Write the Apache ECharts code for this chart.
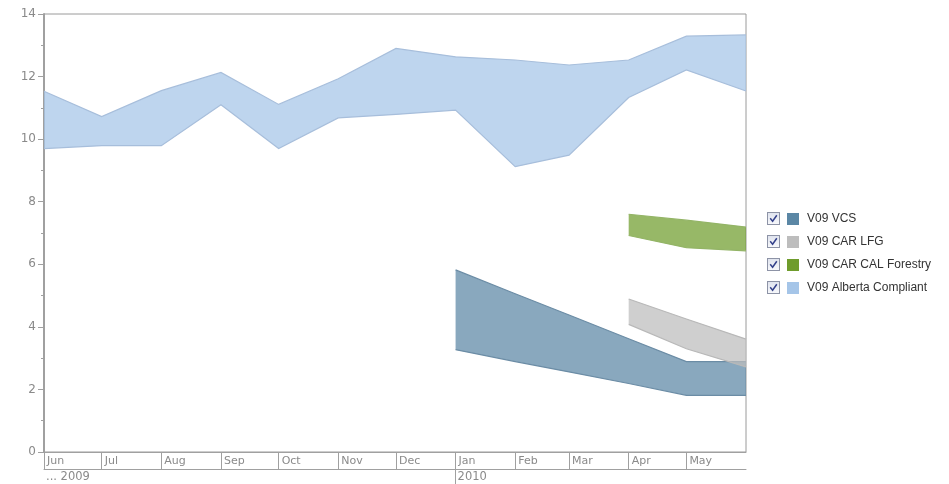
<!DOCTYPE html>
<html>
<head>
<meta charset="utf-8">
<script src="https://cdn.jsdelivr.net/npm/echarts@6/dist/echarts.min.js"></script>
<style>
  html, body { margin: 0; padding: 0; background: #fff; }
  #chart { width: 949px; height: 484px; }
</style>
</head>
<body>
<div id="chart"></div>
<script>
// Month keys (first day of each month) covered by the x axis
const monthKeys = ['2009-06', '2009-07', '2009-08', '2009-09', '2009-10', '2009-11',
  '2009-12', '2010-01', '2010-02', '2010-03', '2010-04', '2010-05', '2010-06'];
const monthLabels = ['Jun', 'Jul', 'Aug', 'Sep', 'Oct', 'Nov', 'Dec', 'Jan', 'Feb', 'Mar', 'Apr', 'May'];
const yearLabelKeys = ['2009-06', '2010-01'];
const yearLabels = ['... 2009', '2010'];
const yTicks = { min: 0, max: 14, step: 2 };

// Price ranges (low / high) per series
const albertaMonths = monthKeys;
const albertaLow  = [9.70, 9.79, 9.79, 11.10, 9.70, 10.68, 10.79, 10.93, 9.12, 9.49, 11.33, 12.21, 11.54];
const albertaHigh = [11.53, 10.72, 11.55, 12.13, 11.11, 11.93, 12.90, 12.63, 12.53, 12.37, 12.53, 13.29, 13.33];

const vcsMonths = ['2010-01', '2010-02', '2010-03', '2010-04', '2010-05', '2010-06'];
const vcsLow  = [3.27, 2.89, 2.56, 2.19, 1.81, 1.81];
const vcsHigh = [5.82, 5.06, 4.38, 3.62, 2.89, 2.89];

const lfgMonths = ['2010-04', '2010-05', '2010-06'];
const lfgLow  = [4.08, 3.30, 2.72];
const lfgHigh = [4.89, 4.25, 3.61];

const forestryMonths = ['2010-04', '2010-05', '2010-06'];
const forestryLow  = [6.92, 6.53, 6.43];
const forestryHigh = [7.60, 7.41, 7.19];

const legendOrder = ['V09 VCS', 'V09 CAR LFG', 'V09 CAR CAL Forestry', 'V09 Alberta Compliant'];

// Day number (UTC) of the first day of a month key
const DAY = 86400000;
function dayOf(key) {
  const [y, m] = key.split('-').map(Number);
  return Date.UTC(y, m - 1, 1) / DAY;
}
const tickDays = monthKeys.slice(0, monthLabels.length).map(dayOf);
const yearDays = yearLabelKeys.map(dayOf);
const xMin = dayOf(monthKeys[0]);
const xMax = dayOf(monthKeys[monthKeys.length - 1]);

function rgba(hex, a) {
  const n = parseInt(hex.slice(1), 16);
  return 'rgba(' + (n >> 16) + ',' + ((n >> 8) & 255) + ',' + (n & 255) + ',' + a + ')';
}

// A range series: filled polygon between the low and high lines, with both edges stroked
function band(name, months, low, high, color, edge) {
  const data = months.map((m, i) => [dayOf(m), low[i], high[i]]);
  return {
    name: name, type: 'custom', silent: true,
    itemStyle: { color: color },
    encode: { x: 0, y: [1, 2] },
    data: data,
    renderItem: function (params, api) {
      if (params.dataIndex !== 0) return null;
      const top = data.map(d => api.coord([d[0], d[2]]));
      const bottom = data.map(d => api.coord([d[0], d[1]]));
      return {
        type: 'group',
        children: [
          { type: 'polygon', shape: { points: top.concat(bottom.slice().reverse()) },
            style: { fill: rgba(color, 0.72), stroke: null } },
          { type: 'polyline', shape: { points: top }, style: { fill: null, stroke: edge, lineWidth: 1.2 } },
          { type: 'polyline', shape: { points: bottom }, style: { fill: null, stroke: edge, lineWidth: 1.2 } }
        ]
      };
    }
  };
}

const checkboxSvg = "<svg xmlns='http://www.w3.org/2000/svg' width='13' height='13'>" +
  "<defs><linearGradient id='g' x1='0' y1='0' x2='0' y2='1'><stop offset='0' stop-color='#dfe3ee'/><stop offset='1' stop-color='#f7f8fb'/></linearGradient></defs>" +
  "<rect x='0.5' y='0.5' width='12' height='12' fill='url(#g)' stroke='#8d93a6'/>" +
  "<path d='M3.2 6.3 L5.6 9.2 L9.8 3.2' fill='none' stroke='#33408a' stroke-width='1.5'/></svg>";
const checkboxIcon = 'image://data:image/svg+xml;charset=utf-8,' + encodeURIComponent(checkboxSvg);

const axisGray = '#a0a0a0';
const labelGray = '#8a8a8a';
const labelFont = 'DejaVu Sans';

const chart = echarts.init(document.getElementById('chart'), null, { renderer: 'canvas' });
chart.setOption({
  animation: false,
  backgroundColor: '#fff',
  grid: { left: 44, right: 203, top: 14, bottom: 32, show: true, borderColor: '#9a9a9a', borderWidth: 1, backgroundColor: 'transparent' },
  legend: [
    {
      orient: 'vertical', left: 767, top: 212, padding: 0, itemWidth: 13, itemHeight: 13, itemGap: 10,
      selectedMode: false, icon: checkboxIcon, data: legendOrder,
      formatter: () => '', textStyle: { lineHeight: 13, fontSize: 12 }
    },
    {
      orient: 'vertical', left: 787, top: 212, padding: 0, itemWidth: 12, itemHeight: 12, itemGap: 9,
      selectedMode: false, icon: 'rect', data: legendOrder,
      itemStyle: { borderWidth: 0 },
      textStyle: { color: '#333', fontFamily: 'Liberation Sans', fontSize: 12, lineHeight: 14, padding: [0, 0, 0, 3] }
    }
  ],
  xAxis: [
    {
      type: 'value', min: xMin, max: xMax,
      position: 'bottom',
      axisLine: { show: true, lineStyle: { color: axisGray, width: 1 } },
      axisTick: { show: true, customValues: tickDays, length: 17, lineStyle: { color: axisGray } },
      splitLine: { show: false },
      axisLabel: {
        customValues: tickDays, align: 'left', margin: 4, padding: [0, 0, 0, 3],
        color: labelGray, fontFamily: labelFont, fontSize: 11,
        formatter: (v) => { const i = tickDays.indexOf(v); return i >= 0 ? monthLabels[i] : ''; }
      }
    },
    {
      type: 'value', min: xMin, max: xMax,
      position: 'bottom', offset: 17,
      axisLine: { show: true, lineStyle: { color: axisGray, width: 1 } },
      axisTick: { show: true, customValues: [yearDays[1]], length: 15, lineStyle: { color: axisGray } },
      splitLine: { show: false },
      axisLabel: {
        customValues: yearDays, align: 'left', margin: 2, padding: [0, 0, 0, 2],
        color: labelGray, fontFamily: labelFont, fontSize: 11.5,
        formatter: (v) => { const i = yearDays.indexOf(v); return i >= 0 ? yearLabels[i] : ''; }
      }
    }
  ],
  yAxis: {
    type: 'value', min: yTicks.min, max: yTicks.max, interval: yTicks.step,
    axisLine: { show: true, lineStyle: { color: axisGray, width: 2 } },
    axisTick: { show: true, length: 6, lineStyle: { color: axisGray } },
    minorTick: { show: true, splitNumber: 2, length: 3, lineStyle: { color: axisGray } },
    splitLine: { show: false },
    axisLabel: { color: labelGray, fontFamily: labelFont, fontSize: 12, margin: 8 }
  },
  series: [
    band('V09 Alberta Compliant', albertaMonths, albertaLow, albertaHigh, '#a5c5e8', '#a7bedb'),
    band('V09 VCS', vcsMonths, vcsLow, vcsHigh, '#5b87a5', '#6b8ca5'),
    band('V09 CAR LFG', lfgMonths, lfgLow, lfgHigh, '#bdbdbd', '#b8b8b8'),
    band('V09 CAR CAL Forestry', forestryMonths, forestryLow, forestryHigh, '#6f9c2c', '#93b466')
  ]
});
</script>
</body>
</html>
